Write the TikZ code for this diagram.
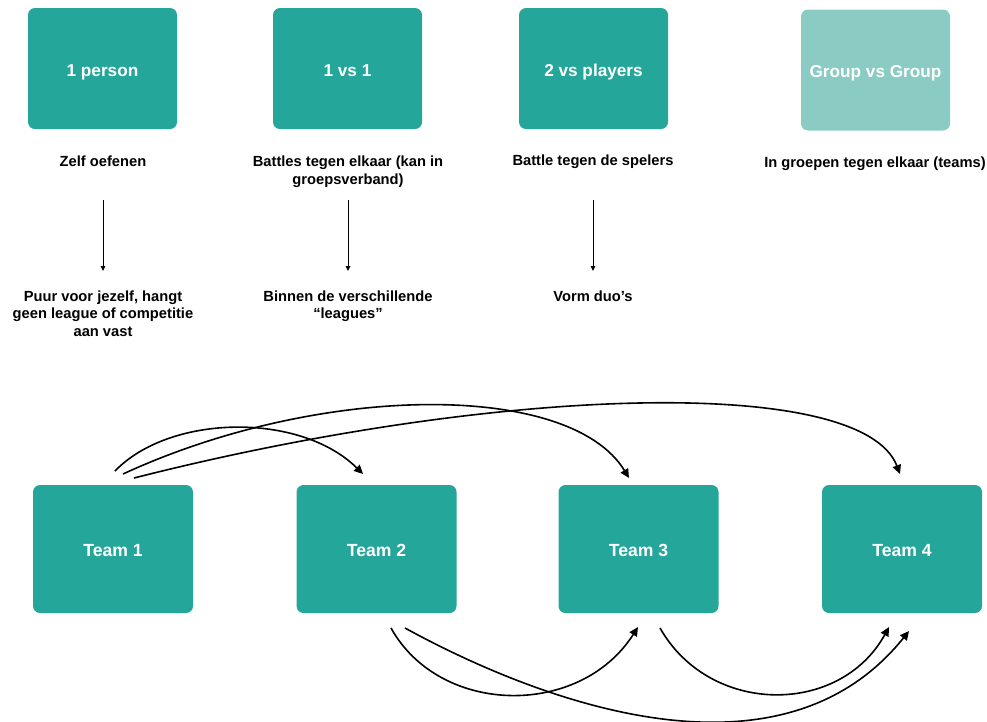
\documentclass[tikz,border=0pt]{standalone}
\usepackage{fontspec}
\setmainfont{Liberation Sans}
\usetikzlibrary{arrows.meta}
\definecolor{teal1}{RGB}{36,166,154}
\definecolor{teal2}{RGB}{138,204,196}
\tikzset{
  box/.style={fill=teal1, rounded corners=7pt, minimum width=149pt, minimum height=121pt, inner sep=0pt,
    text=white, text height=15.2pt, text depth=0pt, font=\fontsize{17.2}{20}\selectfont\bfseries},
  lightbox/.style={box, fill=teal2},
  teambox/.style={box, minimum width=160pt, minimum height=128pt, text height=14.6pt,
    font=\fontsize{17.6}{20}\selectfont\bfseries},
  lbl/.style={align=center, inner sep=0pt, font=\fontsize{14.7}{17.5}\selectfont\bfseries},
  down/.style={draw=black, line width=0.9pt, -{Triangle[length=5pt,width=4.5pt]}},
  curve/.style={draw=black, line width=1.6pt, -{Triangle[length=9pt,width=8.5pt]}},
}
\begin{document}
\begin{tikzpicture}[x=1pt,y=-1pt]
\useasboundingbox (0,0) rectangle (987,721);
\clip (0,0) rectangle (987,721);
% top boxes
\node[box] (b1) at (102.5,68.5) {1 person};
\node[box] (b2) at (347.5,68.5) {1 vs 1};
\node[box] (b3) at (593.5,68.5) {2 vs players};
\node[lightbox] (b4) at (875.5,70) {Group vs Group};
% labels
\node[lbl] (l1) at (103,161.5) {Zelf oefenen};
\node[lbl] (l2) at (348,171.5) {Battles tegen elkaar (kan in\\groepsverband)};
\node[lbl] (l3) at (593,161.5) {Battle tegen de spelers};
\node[lbl] (l4) at (875,163.5) {In groepen tegen elkaar (teams)};
\node[lbl] (d1) at (103,313.5) {Puur voor jezelf, hangt\\geen league of competitie\\aan vast};
\node[lbl] (d2) at (348,306) {Binnen de verschillende\\“leagues”};
\node[lbl] (d3) at (593,296) {Vorm duo’s};
% vertical arrows
\coordinate (a1s) at (103,200); \coordinate (a1e) at (103,271);
\coordinate (a2s) at (348,200); \coordinate (a2e) at (348,271);
\coordinate (a3s) at (593,200); \coordinate (a3e) at (593,271);
\draw[down] (a1s) -- (a1e);
\draw[down] (a2s) -- (a2e);
\draw[down] (a3s) -- (a3e);
% team boxes
\node[teambox] (t1) at (113,549) {Team 1};
\node[teambox] (t2) at (376.5,549) {Team 2};
\node[teambox] (t3) at (638.5,549) {Team 3};
\node[teambox] (t4) at (902,549) {Team 4};
% top curves
\coordinate (sA) at (115,471); \coordinate (eA) at (363,474);
\coordinate (sB) at (123,474); \coordinate (eB) at (629,478);
\coordinate (sC) at (134,478); \coordinate (eC) at (900,474);
\draw[curve] (sA) .. controls (170,414) and (300,412) .. (eA);
\draw[curve] (sB) .. controls (320,383) and (570,381) .. (eB);
\draw[curve] (sC) .. controls (500,385) and (862,375) .. (eC);
% bottom curves
\coordinate (sD) at (391,628); \coordinate (eD) at (638,627);
\coordinate (sE) at (405,628); \coordinate (eE) at (909,631);
\coordinate (sF) at (660,628); \coordinate (eF) at (889,627);
\draw[curve] (sD) .. controls (440,716) and (580,718) .. (eD);
\draw[curve] (sE) .. controls (540,702) and (780,792) .. (eE);
\draw[curve] (sF) .. controls (710,716) and (840,716) .. (eF);
\end{tikzpicture}
\end{document}
